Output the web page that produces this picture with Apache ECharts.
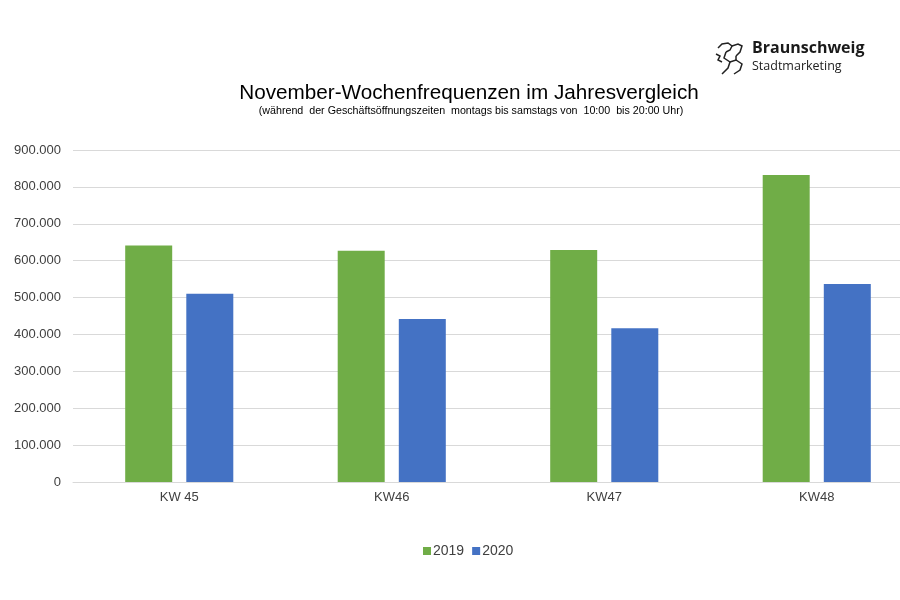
<!DOCTYPE html>
<html><head><meta charset="utf-8">
<script src="https://cdn.jsdelivr.net/npm/echarts@6/dist/echarts.min.js"></script>
<style>html,body{margin:0;padding:0;background:#fff;overflow:hidden;width:900px;height:600px}#c{width:940px;height:600px}</style>
</head><body><div id="c"></div>
<script>
const categories = ['KW 45', 'KW46', 'KW47', 'KW48'];
const values2019 = [641000, 627000, 629000, 832000];
const values2020 = [510000, 442000, 417000, 537000];
const seriesNames = ['2019', '2020'];
const yTicks = { min: 0, max: 900000, interval: 100000 };

const chart = echarts.init(document.getElementById('c'), null, { renderer: 'canvas' });
const font = 'Liberation Sans, Arial, sans-serif';
const lionStroke = { stroke: '#222', lineWidth: 1.5, fill: 'none' };
chart.setOption({
  animation: false,
  backgroundColor: '#fff',
  title: [
    { text: 'November-Wochenfrequenzen im Jahresvergleich', left: 464, top: 78, textAlign: 'center',
      textStyle: { fontFamily: font, fontSize: 20.7, fontWeight: 'normal', color: '#000' } },
    { text: '(während  der Geschäftsöffnungszeiten  montags bis samstags von  10:00  bis 20:00 Uhr)', left: 466, top: 101, textAlign: 'center',
      textStyle: { fontFamily: font, fontSize: 10.7, fontWeight: 'normal', color: '#000' } }
  ],
  legend: {
    data: seriesNames, left: 418, top: 539, itemWidth: 8, itemHeight: 8, itemGap: 8,
    icon: 'rect', textStyle: { fontFamily: font, fontSize: 14, color: '#404040', padding: [0, 0, 0, -3] }
  },
  grid: { left: 73, top: 150, width: 850, height: 332, containLabel: false },
  xAxis: {
    type: 'category', data: categories,
    axisLine: { lineStyle: { color: '#D9D9D9' } }, axisTick: { show: false },
    axisLabel: { fontFamily: font, fontSize: 13, color: '#404040', margin: 9 }
  },
  yAxis: {
    type: 'value', min: yTicks.min, max: yTicks.max, interval: yTicks.interval,
    axisLine: { show: false }, axisTick: { show: false },
    splitLine: { lineStyle: { color: '#D9D9D9' } },
    axisLabel: { fontFamily: font, fontSize: 13, color: '#404040', margin: 12,
      formatter: v => v === 0 ? '0' : v.toString().replace(/\B(?=(\d{3})+(?!\d))/g, '.') }
  },
  series: [
    { name: seriesNames[0], type: 'bar', data: values2019, barWidth: 47, barGap: '30%', itemStyle: { color: '#70AD47' } },
    { name: seriesNames[1], type: 'bar', data: values2020, barWidth: 47, itemStyle: { color: '#4472C4' } }
  ],
  graphic: [
    { type: 'polyline', shape: { points: [[718,48],[722,44],[728,43],[732,46],[730,50],[726,52]] }, style: lionStroke },
    { type: 'polyline', shape: { points: [[732,46],[738,44],[742,46],[740,52],[736,56]] }, style: lionStroke },
    { type: 'polyline', shape: { points: [[726,52],[724,58],[730,62],[728,68],[722,74]] }, style: lionStroke },
    { type: 'polyline', shape: { points: [[730,62],[736,60],[742,64],[740,70],[734,74]] }, style: lionStroke },
    { type: 'polyline', shape: { points: [[736,56],[736,60]] }, style: lionStroke },
    { type: 'polyline', shape: { points: [[716,54],[720,56],[718,60],[722,62]] }, style: lionStroke },
    { type: 'text', left: 752, top: 40, style: { text: 'Braunschweig', fontFamily: 'Open Sans, sans-serif', fontSize: 16, fontWeight: 'bold', fill: '#1a1a1a' } },
    { type: 'text', left: 752, top: 60, style: { text: 'Stadtmarketing', fontFamily: 'Open Sans, sans-serif', fontSize: 12.5, fill: '#222' } }
  ]
});
</script></body></html>
